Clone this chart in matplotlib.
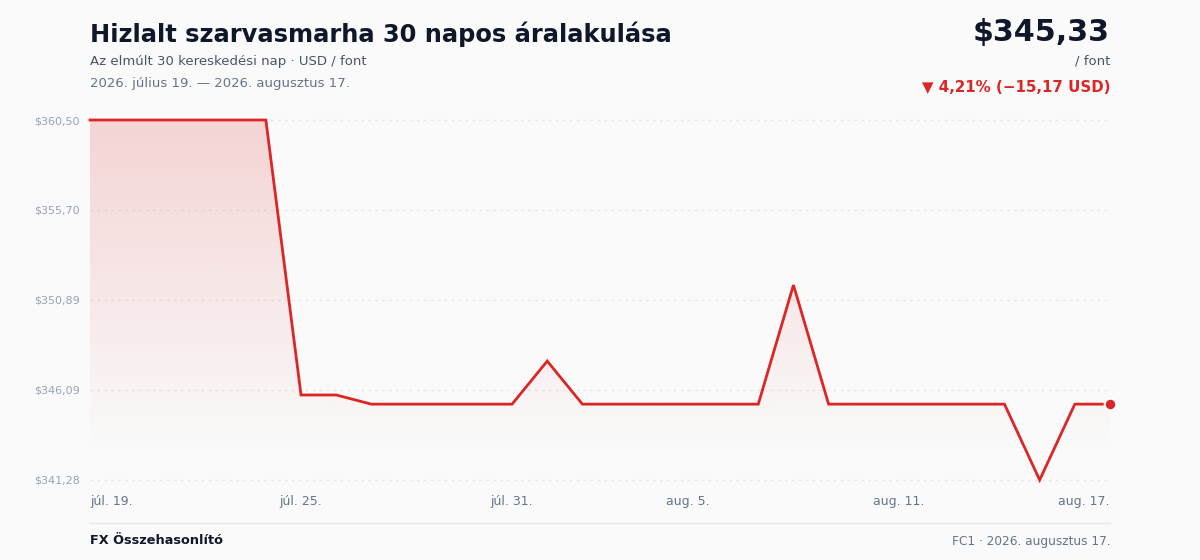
import numpy as np
import matplotlib
matplotlib.use('Agg')
from matplotlib import pyplot as plt
from matplotlib.colors import to_rgb

plt.rcParams['font.family'] = ['DejaVu Sans']

# napi záróárak (USD / font), 2026.07.19 - 2026.08.17
prices = [360.50, 360.50, 360.50, 360.50, 360.50, 360.50,
          345.82, 345.82, 345.33, 345.33, 345.33, 345.33,
          345.33, 347.63, 345.33, 345.33, 345.33, 345.33,
          345.33, 345.33, 351.69, 345.33, 345.33, 345.33,
          345.33, 345.33, 345.33, 341.282, 345.33, 345.33]
tick_days = [0, 6, 12, 17, 23, 29]
tick_labels = ['júl. 19.', 'júl. 25.', 'júl. 31.', 'aug. 5.', 'aug. 11.', 'aug. 17.']

title = 'Hizlalt szarvasmarha 30 napos áralakulása'
subtitle = 'Az elmúlt 30 kereskedési nap · USD / font'
period = '2026. július 19. — 2026. augusztus 17.'

red = '#dc2626'
bg = '#fafafa'

x = np.arange(len(prices))
y = np.array(prices)
ymin, ymax = y.min(), y.max()
first, last = y[0], y[-1]
diff = last - first
pct = diff / first * 100

def hu(v):
    return f'{v:.2f}'.replace('.', ',')

fig = plt.figure(figsize=(12, 5.6), dpi=100, facecolor=bg)
ax = fig.add_axes([0.075, 0.1429, 0.85, 0.6428])
ax.set_facecolor(bg)
ax.set_xlim(0, len(prices) - 1)
ax.set_ylim(ymin, ymax)

# grid
yticks = np.linspace(ymin, ymax, 5)
for t in yticks:
    ax.axhline(t, color='#e5e7eb', lw=1, ls=(0, (2, 3)), zorder=0, clip_on=False)

# gradient fill under the line
poly = ax.fill_between(x, y, ymin, color='none', lw=0)
r, g, b = to_rgb(red)
grad = np.zeros((256, 1, 4))
grad[..., 0], grad[..., 1], grad[..., 2] = r, g, b
grad[:, 0, 3] = np.clip(np.linspace(0.18, -0.015, 256), 0, None)
im = ax.imshow(grad, aspect='auto', extent=[0, len(prices) - 1, ymin, ymax],
               origin='upper', zorder=1)
im.set_clip_path(poly.get_paths()[0], transform=ax.transData)

ax.plot(x, y, color=red, lw=2, zorder=3, clip_on=False, solid_joinstyle='miter')
ax.scatter([x[-1]], [y[-1]], s=70, color=red, edgecolor='white', linewidth=1.5,
           zorder=4, clip_on=False)

for s in ax.spines.values():
    s.set_visible(False)
ax.tick_params(length=0)
ax.set_yticks(yticks)
ax.set_yticklabels(['$' + hu(t) for t in yticks], fontsize=8, color='#94a3b8')
ax.tick_params(axis='y', pad=7.2)
ax.set_xticks(tick_days)
ax.set_xticklabels(tick_labels, fontsize=9, color='#64748b')
ax.tick_params(axis='x', pad=11)
labs = ax.get_xticklabels()
labs[0].set_ha('left')
labs[-1].set_ha('right')

# header
fig.text(90 / 1200, 1 - 34 / 560, title, fontsize=17.4, fontweight='bold',
         color='#0f172a', va='center', ha='left')
fig.text(90 / 1200, 1 - 61 / 560, subtitle, fontsize=9.5, color='#475569',
         va='center', ha='left')
fig.text(90 / 1200, 1 - 83 / 560, period, fontsize=9.5, color='#64748b',
         va='center', ha='left')
fig.text(1110 / 1200, 1 - 33 / 560, '$' + hu(last), fontsize=21.7, fontweight='bold',
         color='#0f172a', va='center', ha='right')
fig.text(1110 / 1200, 1 - 61 / 560, '/ font', fontsize=9.5, color='#475569',
         va='center', ha='right')
arrow = '▼' if diff < 0 else '▲'
fig.text(1110 / 1200, 1 - 87 / 560,
         f'{arrow} {hu(abs(pct))}% (−{hu(abs(diff))} USD)',
         fontsize=10.8, fontweight='bold', color=red, va='center', ha='right')

# footer
fig.add_artist(plt.Line2D([90 / 1200, 1110 / 1200], [1 - 523 / 560, 1 - 523 / 560],
                          color='#e5e7eb', lw=1))
fig.text(90 / 1200, 1 - 541 / 560, 'FX Összehasonlító', fontsize=9.3, fontweight='bold',
         color='#0f172a', va='center', ha='left')
fig.text(1110 / 1200, 1 - 541 / 560, 'FC1 · 2026. augusztus 17.', fontsize=8.7,
         color='#64748b', va='center', ha='right')

fig.savefig('out.png', dpi=100, facecolor=bg)
